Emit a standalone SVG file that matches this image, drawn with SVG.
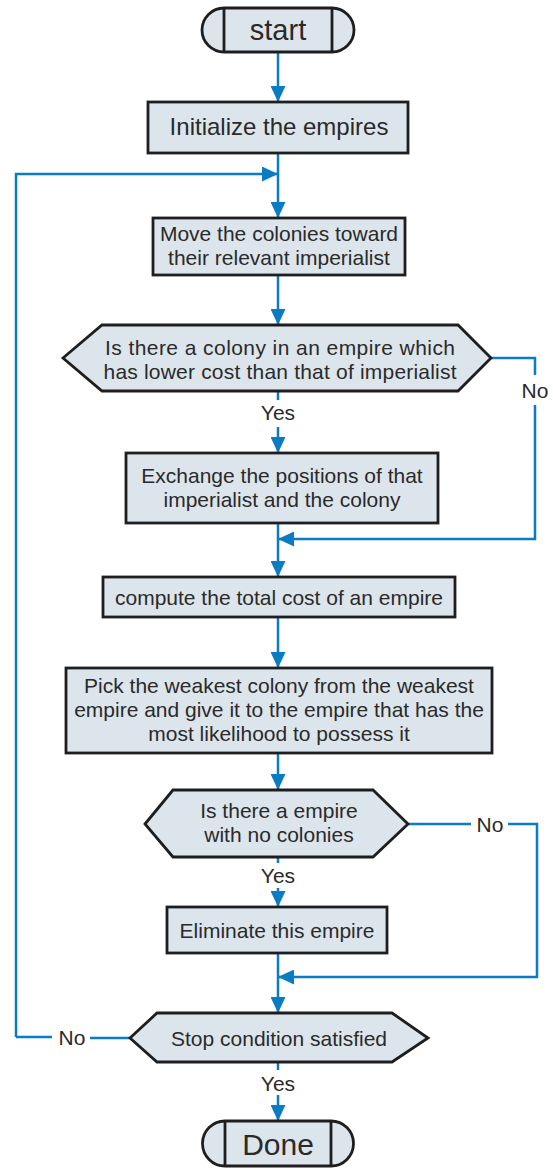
<svg xmlns="http://www.w3.org/2000/svg" width="553" height="1169" viewBox="0 0 553 1169">
<style>
.n{fill:#dde5ec;stroke:#1e1e1e;stroke-width:2.8;stroke-linejoin:miter}
.t{font-family:"Liberation Sans",Arial,sans-serif;font-size:21px;fill:#2a2a2a;text-anchor:middle}
.c{fill:none;stroke:#0a7cc4;stroke-width:2.5}
.l{font-family:"Liberation Sans",Arial,sans-serif;font-size:21px;fill:#2a2a2a;text-anchor:middle}
</style>
<defs>
<marker id="a" markerWidth="16" markerHeight="15" viewBox="0 0 16 15" refX="15" refY="7.5" orient="auto" markerUnits="userSpaceOnUse">
<path d="M0,0 L16,7.5 L0,15 Z" fill="#0a7cc4"/>
</marker>
</defs>
<rect width="553" height="1169" fill="#fff"/>
<g id="connectors">
<path class="c" d="M278,52 V101" marker-end="url(#a)"/>
<path class="c" d="M278,153 V217" marker-end="url(#a)"/>
<path class="c" d="M16,1037 V174 H277" marker-end="url(#a)"/>
<path class="c" d="M278,275 V324" marker-end="url(#a)"/>
<path class="c" d="M278,391 V400"/>
<path class="c" d="M278,427 V452" marker-end="url(#a)"/>
<path class="c" d="M491,358 H535 V375"/>
<path class="c" d="M535,405 V539 H279" marker-end="url(#a)"/>
<path class="c" d="M278,523 V576" marker-end="url(#a)"/>
<path class="c" d="M278,617 V667" marker-end="url(#a)"/>
<path class="c" d="M278,753 V789" marker-end="url(#a)"/>
<path class="c" d="M408,824 H471"/>
<path class="c" d="M508,824 H537 V977 H279" marker-end="url(#a)"/>
<path class="c" d="M278,857 V863"/>
<path class="c" d="M278,888 V906" marker-end="url(#a)"/>
<path class="c" d="M278,953 V1012" marker-end="url(#a)"/>
<path class="c" d="M16,1037 H52"/>
<path class="c" d="M90,1038 H130"/>
<path class="c" d="M278,1062 V1070"/>
<path class="c" d="M278,1095 V1120" marker-end="url(#a)"/>
<text class="l" x="535" y="398">No</text>
<text class="l" x="278" y="420">Yes</text>
<text class="l" x="490" y="832">No</text>
<text class="l" x="278" y="883">Yes</text>
<text class="l" x="72" y="1045">No</text>
<text class="l" x="278" y="1091">Yes</text>
</g>
<g id="start">
<path class="n" d="M224,8 H332 A22,22 0 0 1 332,52 H224 A22,22 0 0 1 224,8 Z"/>
<line x1="224" y1="8" x2="224" y2="52" stroke="#1e1e1e" stroke-width="2.8"/>
<line x1="332" y1="8" x2="332" y2="52" stroke="#1e1e1e" stroke-width="2.8"/>
<text class="t" x="278" y="40" style="font-size:29px">start</text>
</g>
<g id="init">
<rect class="n" x="148" y="102" width="260" height="51"/>
<text class="t" x="279" y="135" style="font-size:24px">Initialize the empires</text>
</g>
<g id="move">
<rect class="n" x="153" y="218" width="252" height="57"/>
<text class="t" x="279" y="241">Move the colonies toward</text>
<text class="t" x="279" y="265">their relevant imperialist</text>
</g>
<g id="decision1">
<polygon class="n" points="63,358 102,325 458,325 491,358 458,391 102,391"/>
<text class="t" x="280" y="355" textLength="350" lengthAdjust="spacing">Is there a colony in an empire which</text>
<text class="t" x="280" y="379" textLength="353" lengthAdjust="spacing">has lower cost than that of imperialist</text>
</g>
<g id="exchange">
<rect class="n" x="126" y="453" width="312" height="70"/>
<text class="t" x="282" y="483">Exchange the positions of that</text>
<text class="t" x="282" y="507">imperialist and the colony</text>
</g>
<g id="compute">
<rect class="n" x="103" y="577" width="352" height="40"/>
<text class="t" x="279" y="605">compute the total cost of an empire</text>
</g>
<g id="pick">
<rect class="n" x="66" y="668" width="426" height="85"/>
<text class="t" x="279" y="693">Pick the weakest colony from the weakest</text>
<text class="t" x="279" y="717">empire and give it to the empire that has the</text>
<text class="t" x="279" y="741">most likelihood to possess it</text>
</g>
<g id="decision2">
<polygon class="n" points="145,824 173,790 373,790 408,824 373,857 173,857"/>
<text class="t" x="279" y="818">Is there a empire</text>
<text class="t" x="279" y="842">with no colonies</text>
</g>
<g id="eliminate">
<rect class="n" x="167" y="907" width="220" height="46"/>
<text class="t" x="277" y="938">Eliminate this empire</text>
</g>
<g id="decision3">
<polygon class="n" points="130,1038 157,1013 392,1013 428,1038 392,1062 157,1062"/>
<text class="t" x="279" y="1046">Stop condition satisfied</text>
</g>
<g id="done">
<path class="n" d="M225,1121 H331 A22,22 0 0 1 331,1166 H225 A22,22 0 0 1 225,1121 Z"/>
<line x1="225" y1="1121" x2="225" y2="1166" stroke="#1e1e1e" stroke-width="2.8"/>
<line x1="331" y1="1121" x2="331" y2="1166" stroke="#1e1e1e" stroke-width="2.8"/>
<text class="t" x="278" y="1155" style="font-size:30px">Done</text>
</g>
</svg>
